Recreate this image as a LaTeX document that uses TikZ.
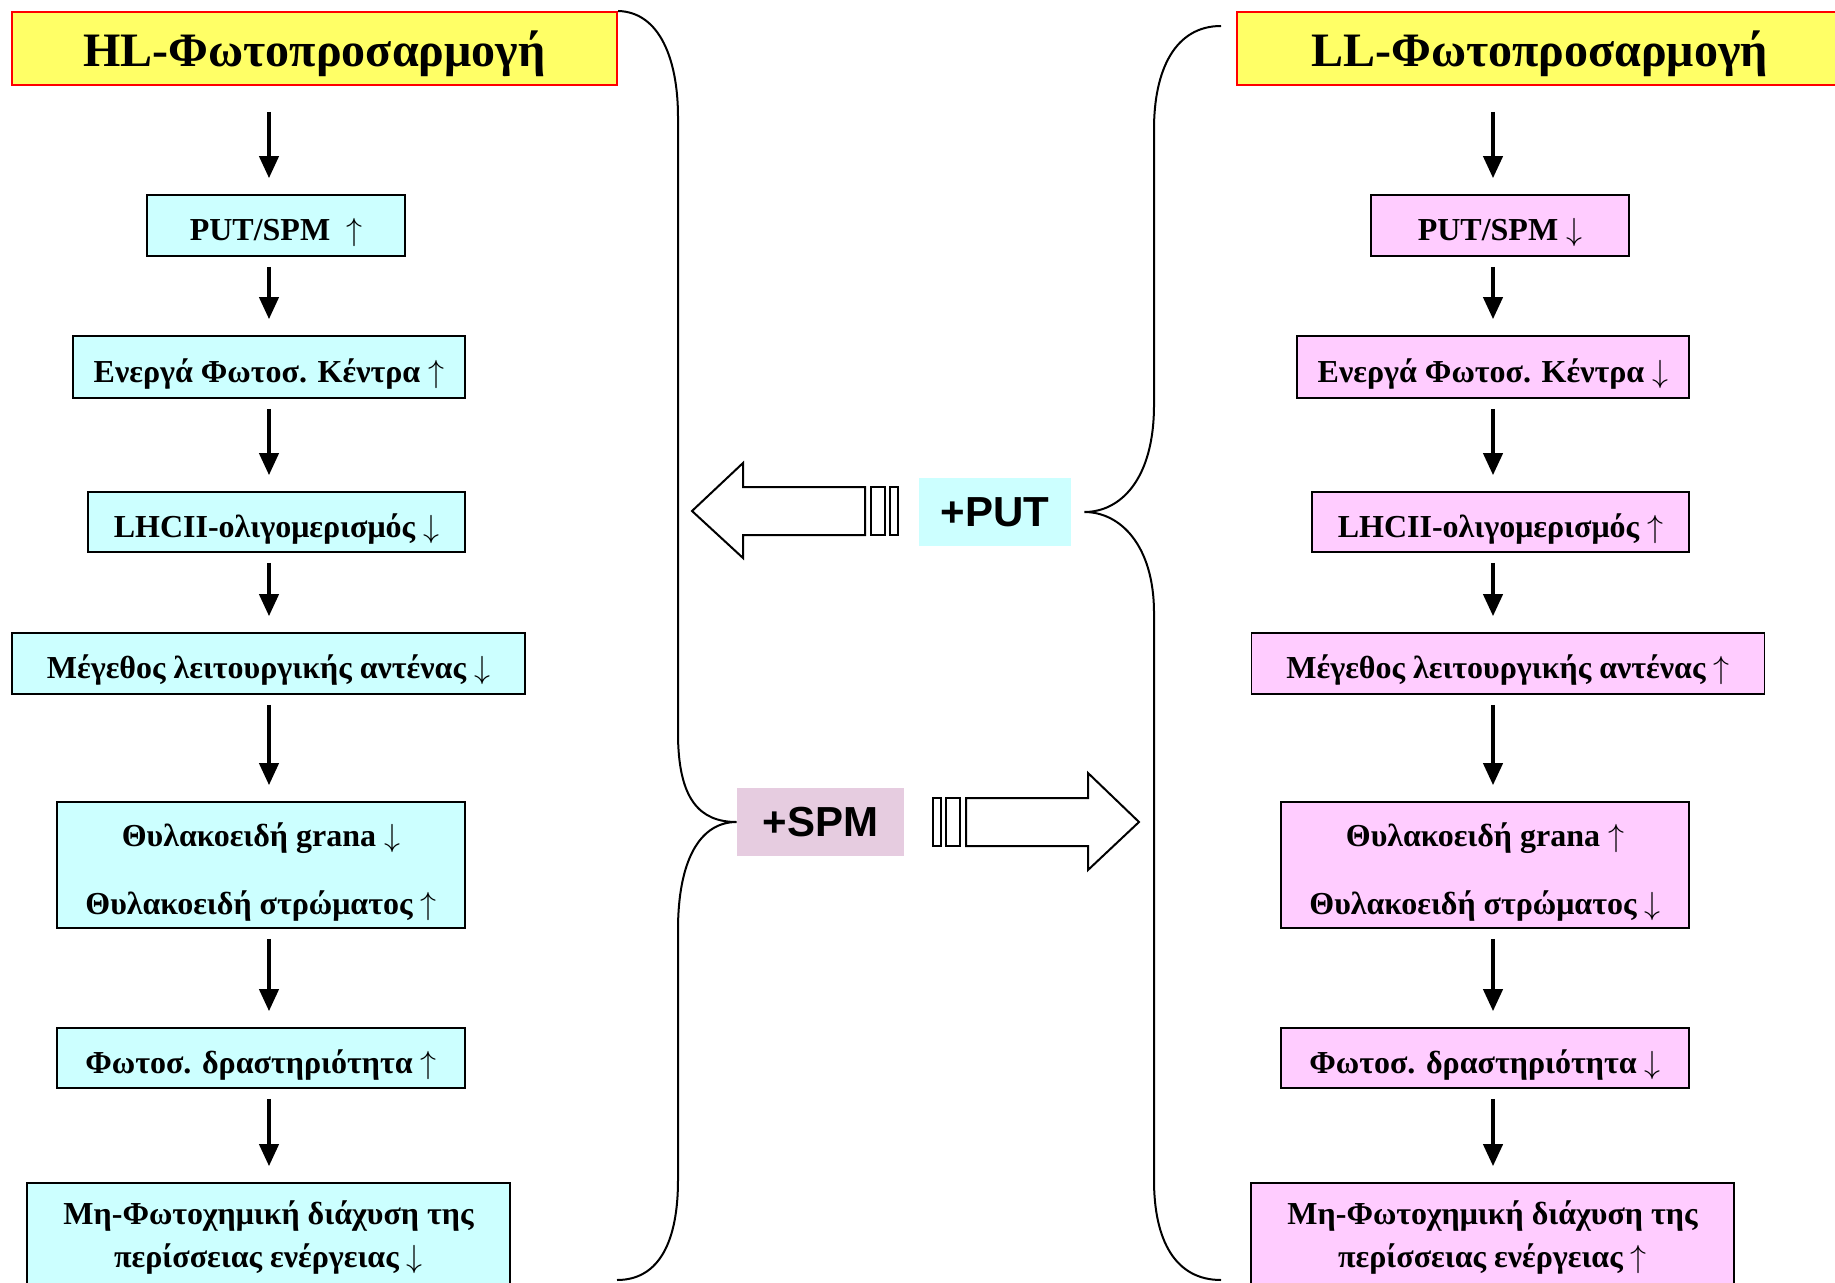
\documentclass[tikz,border=0pt]{standalone}
\usepackage{fix-cm}
\usepackage{fontspec}
\setmainfont{Liberation Serif}
\newfontfamily\arialfont{Liberation Sans}
\usetikzlibrary{arrows.meta}
\definecolor{titleyellow}{HTML}{FFFF66}
\definecolor{hlcyan}{HTML}{CCFFFF}
\definecolor{llpink}{HTML}{FFCCFF}
\definecolor{spmpink}{HTML}{E6CCE0}
\newcommand{\upar}{$\uparrow$}
\newcommand{\dnar}{$\downarrow$}
\begin{document}
\begin{tikzpicture}[>={Triangle[width=9.5pt,length=11pt]},x=0.5pt,y=-0.5pt,
	box/.style={draw,line width=0.8pt,inner sep=0pt,align=center,font=\fontsize{16}{19}\selectfont\bfseries},
	hlbox/.style={box,fill=hlcyan},
	llbox/.style={box,fill=llpink},
	oneline/.style={text height=17pt,text depth=2pt},
	twoline/.style={text height=52.5pt,text depth=3.5pt},
	npqbox/.style={font=\fontsize{16}{21.5}\selectfont\bfseries},
	titlebox/.style={draw=red,line width=1pt,fill=titleyellow,minimum width=302.5pt,minimum height=36.5pt,inner sep=0pt,text height=21pt,text depth=3.3pt,font=\fontsize{24}{28}\selectfont\bfseries},
	flow/.style={->,line width=2pt,shorten <=5pt,shorten >=8pt},
	tag/.style={inner sep=0pt,minimum height=34pt,font=\arialfont\fontsize{21}{25}\selectfont\bfseries},
	hollow/.style={line width=1pt,fill=white,line join=miter}]
	\useasboundingbox (0,0) rectangle (1835,1283);
	% titles
	\node[titlebox] (hltitle) at (314.5,48.5) {HL-Φωτοπροσαρμογή};
	\node[titlebox] (lltitle) at (1539.5,48.5) {LL-Φωτοπροσαρμογή};
	% HL column
	\node[hlbox,oneline,minimum width=129pt,minimum height=30.5pt] (hlput) at (276,225.5) {PUT/SPM\ \ \upar};
	\node[hlbox,oneline,minimum width=196pt,minimum height=31pt] (hlrc) at (269,367) {Ενεργά Φωτοσ. Κέντρα \upar};
	\node[hlbox,oneline,minimum width=188.5pt,minimum height=30pt] (hllhc) at (276.5,522) {LHCII-ολιγομερισμός \dnar};
	\node[hlbox,oneline,minimum width=256.5pt,minimum height=30.5pt] (hlant) at (268.5,663.5) {Μέγεθος λειτουργικής αντένας \dnar};
	\node[hlbox,twoline,minimum width=204pt,minimum height=63pt] (hlthy) at (261,865) {Θυλακοειδή grana \dnar\\[15pt]Θυλακοειδή στρώματος \upar};
	\node[hlbox,oneline,minimum width=204pt,minimum height=30pt] (hlps) at (261,1058) {Φωτοσ. δραστηριότητα \upar};
	\node[hlbox,npqbox,minimum width=241.5pt,minimum height=55pt] (hlnpq) at (268.5,1238) {Μη-Φωτοχημική διάχυση της\\περίσσειας ενέργειας \dnar};
	% LL column
	\node[llbox,oneline,minimum width=129pt,minimum height=30.5pt] (llput) at (1500,225.5) {PUT/SPM \dnar};
	\node[llbox,oneline,minimum width=196pt,minimum height=31pt] (llrc) at (1493,367) {Ενεργά Φωτοσ. Κέντρα \dnar};
	\node[llbox,oneline,minimum width=188.5pt,minimum height=30pt] (lllhc) at (1500.5,522) {LHCII-ολιγομερισμός \upar};
	\node[llbox,oneline,minimum width=256.5pt,minimum height=30.5pt] (llant) at (1508,663.5) {Μέγεθος λειτουργικής αντένας \upar};
	\node[llbox,twoline,minimum width=204pt,minimum height=63pt] (llthy) at (1485,865) {Θυλακοειδή grana \upar\\[15pt]Θυλακοειδή στρώματος \dnar};
	\node[llbox,oneline,minimum width=204pt,minimum height=30pt] (llps) at (1485,1058) {Φωτοσ. δραστηριότητα \dnar};
	\node[llbox,npqbox,minimum width=241.5pt,minimum height=55pt] (llnpq) at (1492.5,1238) {Μη-Φωτοχημική διάχυση της\\περίσσειας ενέργειας \upar};
	% arrows down the columns
	\coordinate (hlaxis) at (269,0);
	\coordinate (llaxis) at (1493,0);
	\draw[flow,shorten <=13pt] (hltitle.south -| hlaxis) -- (hlput.north -| hlaxis);
	\draw[flow,shorten <=13pt] (lltitle.south -| llaxis) -- (llput.north -| llaxis);
	\foreach \a/\b in {put/rc,rc/lhc,lhc/ant,ant/thy,thy/ps,ps/npq}{
		\draw[flow] (hl\a.south -| hlaxis) -- (hl\b.north -| hlaxis);
		\draw[flow] (ll\a.south -| llaxis) -- (ll\b.north -| llaxis);}
	% treatments
	\node[tag,fill=hlcyan,minimum width=76pt] (putbox) at (995,512) {+PUT};
	\node[tag,fill=spmpink,minimum width=83.5pt] (spmbox) at (820.5,822) {+SPM};
	\draw[hollow] (692,511)--(743,463)--(743,487)--(865,487)--(865,535)--(743,535)--(743,558)--cycle;
	\draw[hollow] (871,487) rectangle (885,535) (890,487) rectangle (898,535);
	\draw[hollow] (966,798)--(1088,798)--(1088,773)--(1139,822)--(1088,870)--(1088,846)--(966,846)--cycle;
	\draw[hollow] (933,798) rectangle (941,846) (946,798) rectangle (960,846);
	% braces
	\draw[line width=1pt] (hltitle.north east) .. controls (660,12) and (678,60) .. (678,117) -- (678,733) .. controls (678,800) and (700,822) .. (spmbox.west) .. controls (700,822) and (678,860) .. (678,930) -- (678,1180) .. controls (678,1240) and (660,1280) .. (617,1280);
	\draw[line width=1pt] (1221,26) .. controls (1175,26) and (1154,70) .. (1154,129) -- (1154,405) .. controls (1154,480) and (1120,512) .. ([xshift=6.5pt]putbox.east) .. controls (1120,512) and (1154,545) .. (1154,613) -- (1154,1180) .. controls (1154,1240) and (1175,1280) .. (1221,1280);
\end{tikzpicture}
\end{document}
